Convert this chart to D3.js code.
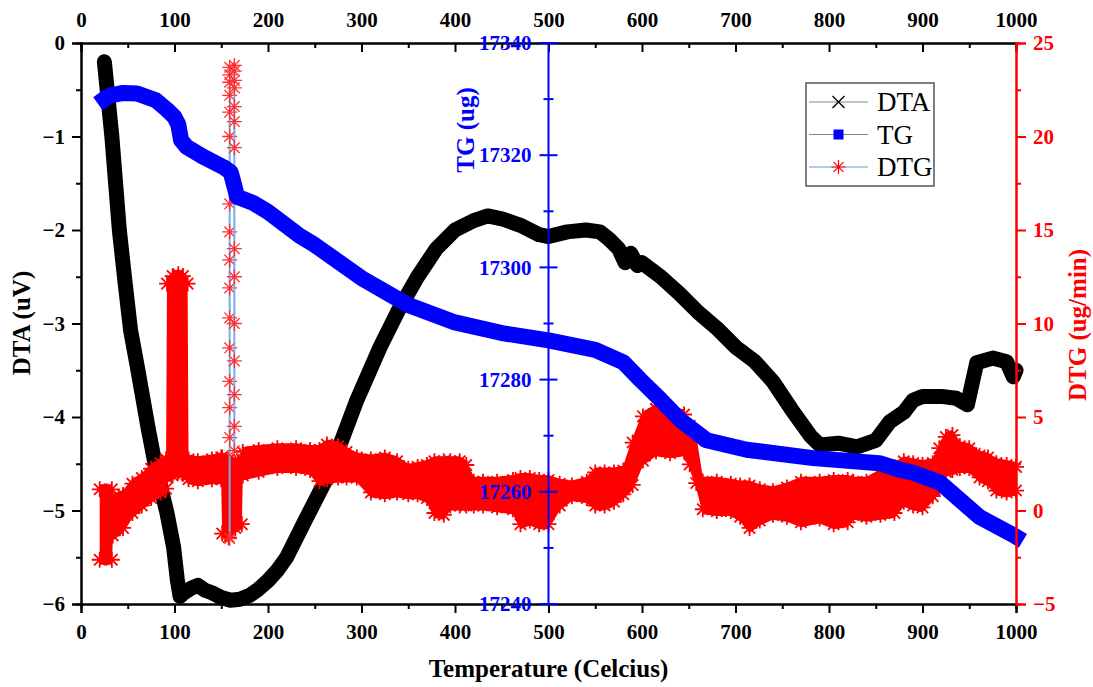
<!DOCTYPE html>
<html>
<head>
<meta charset="utf-8">
<script src="https://cdn.jsdelivr.net/npm/d3@7"></script>
<style>
  body { margin: 0; background: #fff; }
  text { font-family: "Liberation Serif", "Times New Roman", serif; }
</style>
</head>
<body>
<svg width="1093" height="687"></svg>
<script>
// DTA (uV) vs temperature
const dtaTemp = [25, 29, 33, 37, 41, 47, 53, 60, 66, 72, 79, 86, 92, 99, 103, 106, 110, 118, 125, 132, 140, 150, 160, 170, 180, 190, 200, 210, 220, 240, 262, 280, 295, 320, 340, 360, 380, 400, 420, 435, 450, 470, 490, 500, 520, 540, 555, 565, 575, 582, 588, 595, 600, 620, 640, 660, 680, 700, 720, 740, 760, 780, 790, 810, 830, 850, 865, 880, 890, 900, 920, 936, 948, 958, 975, 990, 997, 1000];
const dtaValue = [-0.2, -0.6, -1.0, -1.5, -2.0, -2.55, -3.07, -3.45, -3.79, -4.13, -4.49, -4.78, -5.03, -5.39, -5.74, -5.92, -5.88, -5.83, -5.8, -5.85, -5.88, -5.93, -5.96, -5.95, -5.91, -5.84, -5.75, -5.64, -5.5, -5.1, -4.67, -4.22, -3.82, -3.25, -2.85, -2.5, -2.2, -2.0, -1.9, -1.85, -1.88, -1.95, -2.05, -2.07, -2.02, -2.0, -2.02, -2.1, -2.2, -2.35, -2.25, -2.38, -2.35, -2.5, -2.68, -2.88, -3.05, -3.25, -3.4, -3.62, -3.92, -4.2, -4.3, -4.28, -4.32, -4.25, -4.05, -3.95, -3.82, -3.78, -3.78, -3.8, -3.87, -3.42, -3.37, -3.41, -3.57, -3.5];

// TG (ug) vs temperature
const tgTemp = [25, 30, 45, 60, 80, 92, 100, 104, 107, 113, 130, 152, 160, 162, 167, 184, 200, 234, 250, 300, 350, 400, 450, 500, 550, 580, 598, 620, 641, 669, 712, 783, 854, 876, 890, 919, 961, 997, 1000];
const tgValue = [17330.0, 17330.6, 17331.1, 17331.0, 17329.8, 17328.1, 17326.8, 17325.5, 17322.7, 17321.5, 17319.8, 17317.9, 17317.0, 17315.8, 17312.6, 17311.5, 17309.9, 17305.6, 17304.0, 17298.1, 17293.3, 17290.2, 17288.3, 17287.0, 17285.3, 17283.1, 17280.0, 17276.4, 17272.8, 17269.2, 17267.5, 17266.0, 17265.1, 17263.9, 17263.4, 17261.6, 17255.5, 17252.3, 17252.0];

// DTG (ug/min): noisy band, upper and lower envelope
const dtgTemp = [20, 33, 34, 45, 55, 65, 75, 85, 91, 92, 98, 104, 109, 114, 115, 125, 140, 150, 151, 158, 165, 172, 173, 190, 210, 230, 245, 255, 263, 275, 284, 295, 310, 325, 338, 350, 360, 370, 378, 388, 395, 405, 412, 420, 430, 445, 462, 470, 480, 490, 500, 512, 525, 541, 550, 560, 570, 580, 590, 601, 615, 630, 645, 651, 658, 665, 680, 695, 705, 715, 726, 740, 755, 770, 790, 805, 820, 826, 840, 855, 870, 880, 890, 900, 911, 918, 925, 932, 940, 950, 961, 970, 979, 990, 1000];
const dtgHigh = [1.4, 1.4, 0.9, 1.1, 1.7, 2.0, 2.5, 2.8, 3.0, 12.4, 12.8, 12.9, 12.8, 12.4, 3.0, 2.9, 3.0, 3.1, 3.1, 3.0, 2.8, 3.0, 3.4, 3.5, 3.6, 3.6, 3.5, 3.5, 3.8, 3.7, 3.4, 3.1, 3.0, 3.1, 2.9, 2.5, 2.6, 2.7, 2.9, 2.9, 2.9, 2.9, 2.7, 1.8, 1.8, 1.8, 1.9, 2.0, 2.0, 1.9, 1.9, 1.7, 1.6, 1.8, 2.3, 2.3, 2.3, 2.4, 3.9, 5.3, 5.7, 5.6, 5.4, 4.8, 4.0, 1.8, 1.8, 1.7, 1.6, 1.6, 1.4, 1.3, 1.5, 1.8, 1.8, 1.9, 1.9, 1.8, 1.8, 2.2, 2.6, 2.9, 2.8, 2.7, 2.8, 3.6, 4.2, 4.3, 3.7, 3.6, 3.2, 3.1, 2.8, 2.7, 2.6];
const dtgLow = [-2.9, -2.9, -1.6, -1.2, -0.4, 0.0, 0.4, 0.7, 0.9, 1.5, 1.6, 1.8, 1.7, 1.6, 1.4, 1.3, 1.4, 1.4, -1.5, -1.7, -1.2, -1.0, 1.6, 1.8, 2.0, 2.0, 1.9, 1.3, 1.4, 1.5, 1.5, 1.5, 0.7, 0.6, 0.7, 0.6, 0.6, 0.4, -0.4, -0.5, 0.0, 0.0, 0.0, 0.0, 0.0, -0.1, -0.2, -1.0, -0.8, -1.0, -1.0, 0.0, 0.5, 0.4, 0.0, 0.0, 0.2, 0.6, 1.1, 2.4, 2.9, 2.8, 2.9, 2.2, 1.2, -0.2, -0.3, -0.3, -0.6, -1.2, -0.8, -0.5, -0.6, -0.9, -0.7, -1.0, -0.9, -0.5, -0.6, -0.5, -0.4, 0.2, 0.0, -0.1, 0.5, 0.9, 1.8, 1.9, 2.0, 2.0, 1.5, 1.3, 0.8, 0.7, 0.8];

// DTG spike near 160 C: isolated points on two vertical runs
const spikeTempA = 159;
const spikeValA = [-1.5, 3.9, 5.5, 6.9, 8.7, 10.3, 11.9, 13.4, 14.9, 16.4, 18.2, 20.0, 21.3, 22.2, 22.9, 23.3, 23.7];
const spikeTempB = 164;
const spikeValB = [3.2, 4.5, 6.2, 8.0, 10.0, 12.5, 14.0, 17.3, 19.4, 20.8, 21.6, 22.6, 23.0, 23.5, 23.8];

const xTicks = [0, 100, 200, 300, 400, 500, 600, 700, 800, 900, 1000];
const dtaTicks = [-6, -5, -4, -3, -2, -1, 0];
const tgTicks = [17240, 17260, 17280, 17300, 17320, 17340];
const dtgTicks = [-5, 0, 5, 10, 15, 20, 25];

const svg = d3.select("svg");
const plotLeft = 81, plotRight = 1016, plotTop = 43, plotBottom = 604;

const x = d3.scaleLinear().domain([0, 1000]).range([plotLeft, plotRight]);
const yDta = d3.scaleLinear().domain([-6, 0]).range([plotBottom, plotTop]);
const yTg = d3.scaleLinear().domain([17240, 17340]).range([plotBottom, plotTop]);
const yDtg = d3.scaleLinear().domain([-5, 25]).range([plotBottom, plotTop]);

svg.append("rect").attr("width", 1093).attr("height", 687).attr("fill", "#fff");

const plot = svg.append("g");

function asterisk(s) {
  const r = s / 2, d = r * 0.707;
  return `M0,${-r}V${r}M${-r},0H${r}M${-d},${-d}L${d},${d}M${-d},${d}L${d},${-d}`;
}

// DTA
plot.append("path")
  .datum(dtaTemp.map((t, i) => [t, dtaValue[i]]))
  .attr("fill", "none")
  .attr("stroke", "#000")
  .attr("stroke-width", 15)
  .attr("stroke-linejoin", "round")
  .attr("stroke-linecap", "round")
  .attr("d", d3.line().x(d => x(d[0])).y(d => yDta(d[1])));

// DTG band
const dtg = dtgTemp.map((t, i) => ({ t, hi: dtgHigh[i], lo: dtgLow[i] }));
plot.append("path")
  .datum(dtg)
  .attr("fill", "#ff0000")
  .attr("d", d3.area().x(d => x(d.t)).y0(d => yDtg(d.lo)).y1(d => yDtg(d.hi)));

plot.append("g").selectAll("path")
  .data(dtg.flatMap(d => [[d.t, yDtg(d.hi) + 5], [d.t, yDtg(d.lo) - 5]]))
  .join("path")
  .attr("transform", d => `translate(${x(d[0])},${d[1]})`)
  .attr("d", asterisk(16))
  .attr("stroke", "#ff0000")
  .attr("stroke-width", 1.8);

// DTG spike: light blue connecting line and red asterisks
[[spikeTempA, spikeValA], [spikeTempB, spikeValB]].forEach(([t, vals]) => {
  plot.append("line")
    .attr("x1", x(t)).attr("x2", x(t))
    .attr("y1", yDtg(d3.min(vals))).attr("y2", yDtg(d3.max(vals)))
    .attr("stroke", "#79aeea")
    .attr("stroke-width", 2);
  plot.append("g").selectAll("path")
    .data(vals)
    .join("path")
    .attr("transform", v => `translate(${x(t)},${yDtg(v)})`)
    .attr("d", asterisk(15))
    .attr("stroke", "#ff3030")
    .attr("stroke-width", 1.3);
});

// TG
plot.append("path")
  .datum(tgTemp.map((t, i) => [t, tgValue[i]]))
  .attr("fill", "none")
  .attr("stroke", "#0000ff")
  .attr("stroke-width", 16)
  .attr("stroke-linejoin", "round")
  .attr("stroke-linecap", "square")
  .attr("d", d3.line().x(d => x(d[0])).y(d => yTg(d[1])));

// axes
const fmt = d3.format("d");
function styleAxis(g, color) {
  g.selectAll("path.domain").attr("stroke", color).attr("stroke-width", 2);
  g.selectAll(".tick line").attr("stroke", color).attr("stroke-width", 2);
  g.selectAll(".tick text").attr("fill", color)
    .style("font-size", "21px").style("font-weight", "bold")
    .style("font-family", "'Liberation Serif', serif");
}

// bottom
svg.append("g").attr("transform", `translate(0,${plotBottom})`)
  .call(d3.axisBottom(x).tickValues(d3.range(50, 1000, 100)).tickSize(5).tickFormat(""))
  .call(g => styleAxis(g, "#000"));
svg.append("g").attr("transform", `translate(0,${plotBottom})`)
  .call(d3.axisBottom(x).tickValues(xTicks).tickSize(9).tickPadding(11).tickFormat(fmt))
  .call(g => styleAxis(g, "#000"));

// top
svg.append("g").attr("transform", `translate(0,${plotTop})`)
  .call(d3.axisTop(x).tickValues(d3.range(50, 1000, 100)).tickSize(-5).tickFormat(""))
  .call(g => styleAxis(g, "#000"));
svg.append("g").attr("transform", `translate(0,${plotTop})`)
  .call(d3.axisTop(x).tickValues(xTicks).tickSize(-9).tickPadding(16).tickFormat(fmt))
  .call(g => styleAxis(g, "#000"));

// left DTA
svg.append("g").attr("transform", `translate(${plotLeft},0)`)
  .call(d3.axisLeft(yDta).tickValues(d3.range(-5.5, 0, 1)).tickSize(5).tickFormat(""))
  .call(g => styleAxis(g, "#000"));
svg.append("g").attr("transform", `translate(${plotLeft},0)`)
  .call(d3.axisLeft(yDta).tickValues(dtaTicks).tickSize(9).tickPadding(7).tickFormat(fmt))
  .call(g => styleAxis(g, "#000"));

// right DTG
svg.append("g").attr("transform", `translate(${plotRight},0)`)
  .call(d3.axisRight(yDtg).tickValues(d3.range(-2.5, 25, 5)).tickSize(5).tickFormat(""))
  .call(g => styleAxis(g, "#ff0000"));
svg.append("g").attr("transform", `translate(${plotRight},0)`)
  .call(d3.axisRight(yDtg).tickValues(dtgTicks).tickSize(10).tickPadding(7).tickFormat(fmt))
  .call(g => styleAxis(g, "#ff0000"));

// middle TG axis at 500 C, ticks cross the line
const tgX = x(500);
const tgAxis = svg.append("g").attr("transform", `translate(${tgX},0)`);
tgAxis.append("line").attr("y1", plotTop).attr("y2", plotBottom)
  .attr("stroke", "#0000ff").attr("stroke-width", 2);
tgAxis.selectAll("line.minor")
  .data(d3.range(17250, 17340, 20))
  .join("line").attr("class", "minor")
  .attr("x1", -5).attr("x2", 5)
  .attr("y1", d => yTg(d)).attr("y2", d => yTg(d))
  .attr("stroke", "#0000ff").attr("stroke-width", 2);
tgAxis.selectAll("line.major")
  .data(tgTicks)
  .join("line").attr("class", "major")
  .attr("x1", -9).attr("x2", 9)
  .attr("y1", d => yTg(d)).attr("y2", d => yTg(d))
  .attr("stroke", "#0000ff").attr("stroke-width", 2);
tgAxis.selectAll("text")
  .data(tgTicks)
  .join("text")
  .attr("x", -17)
  .attr("y", d => yTg(d))
  .attr("dy", "0.34em")
  .attr("text-anchor", "end")
  .attr("fill", "#0000ff")
  .style("font-size", "21px").style("font-weight", "bold")
  .text(fmt);

// axis titles
svg.append("text")
  .attr("x", x(500)).attr("y", 677)
  .attr("text-anchor", "middle")
  .style("font-size", "25px").style("font-weight", "bold")
  .text("Temperature (Celcius)");

svg.append("text")
  .attr("transform", "translate(30,323) rotate(-90)")
  .attr("text-anchor", "middle")
  .style("font-size", "25px").style("font-weight", "bold")
  .text("DTA (uV)");

svg.append("text")
  .attr("transform", "translate(1086,325) rotate(-90)")
  .attr("text-anchor", "middle")
  .attr("fill", "#ff0000")
  .style("font-size", "25px").style("font-weight", "bold")
  .text("DTG (ug/min)");

svg.append("text")
  .attr("transform", "translate(474,130) rotate(-90)")
  .attr("text-anchor", "middle")
  .attr("fill", "#0000ff")
  .style("font-size", "25px").style("font-weight", "bold")
  .text("TG (ug)");

// legend
const legendNames = ["DTA", "TG", "DTG"];
const legend = svg.append("g").attr("transform", "translate(806,83)");
legend.append("rect").attr("width", 128).attr("height", 103)
  .attr("fill", "#fff").attr("stroke", "#555").attr("stroke-width", 1.5);
legendNames.forEach((name, i) => {
  const ly = 19 + i * 32.5;
  legend.append("line").attr("x1", 3).attr("x2", 62).attr("y1", ly).attr("y2", ly)
    .attr("stroke", name === "DTG" ? "#5b9be6" : "#888").attr("stroke-width", 1.2);
  if (name === "DTA") {
    legend.append("path").attr("transform", `translate(32.5,${ly})`)
      .attr("d", "M-6,-6L6,6M-6,6L6,-6").attr("stroke", "#000").attr("stroke-width", 1.3);
  } else if (name === "TG") {
    legend.append("rect").attr("x", 27.5).attr("y", ly - 5).attr("width", 10).attr("height", 10)
      .attr("fill", "#0000ff");
  } else {
    legend.append("path").attr("transform", `translate(32.5,${ly})`)
      .attr("d", asterisk(14)).attr("stroke", "#ff0000").attr("stroke-width", 1.2);
  }
  legend.append("text").attr("x", 71).attr("y", ly + 9)
    .style("font-size", "27px")
    .text(name);
});
</script>
</body>
</html>
